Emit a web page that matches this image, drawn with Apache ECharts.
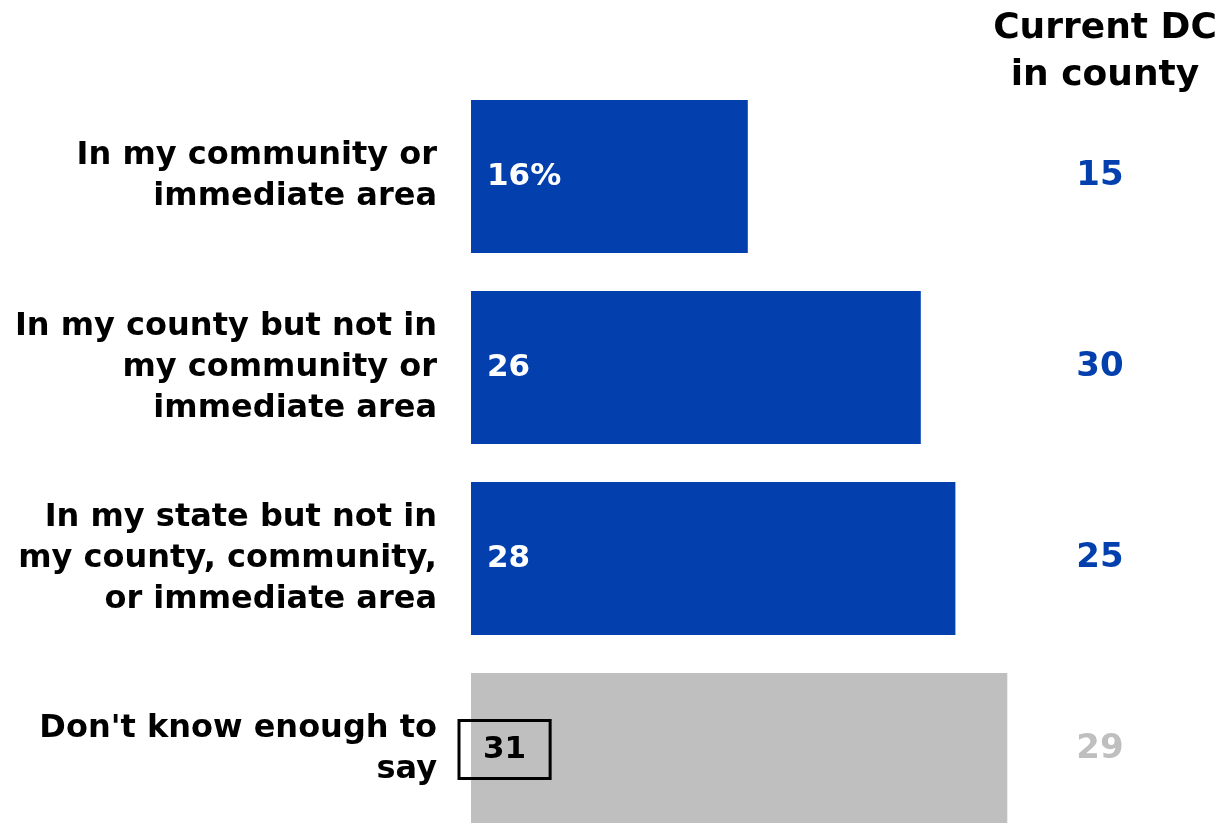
<!DOCTYPE html>
<html>
<head>
<meta charset="utf-8">
<script src="https://cdn.jsdelivr.net/npm/echarts@6/dist/echarts.min.js"></script>
<style>html,body{margin:0;padding:0;background:#fff;}#c{width:1224px;height:823px;}</style>
</head>
<body>
<div id="c"></div>
<script>
var categories = [
  "In my community or\nimmediate area",
  "In my county but not in\nmy community or\nimmediate area",
  "In my state but not in\nmy county, community,\nor immediate area",
  "Don't know enough to\nsay"
];
var values = [16, 26, 28, 31];
var valueLabels = ["16%", "26", "28", "31"];
var dcValues = ["15", "30", "25", "29"];
var dcTitle = "Current DC\nin county";

var BLUE = "#0340ae", GRAY = "#bfbfbf";
var FONT = "DejaVu Sans";

var barData = values.map(function (v, i) {
  var last = i === values.length - 1;
  return {
    value: v,
    itemStyle: { color: last ? GRAY : BLUE },
    label: last ? {
      color: "#000",
      borderColor: "#000",
      borderWidth: 3,
      padding: [14, 24, 13, 24],
      offset: [-12, 0],
      distance: 0
    } : {}
  };
});

var chart = echarts.init(document.getElementById("c"), null, { renderer: "canvas" });
chart.setOption({
  animation: false,
  backgroundColor: "#fff",
  title: {
    text: dcTitle,
    left: 1100,
    top: 0,
    textAlign: "center",
    textStyle: { fontFamily: FONT, fontWeight: "bold", fontSize: 36, lineHeight: 47, color: "#000" }
  },
  grid: { left: 471, top: 81, width: 692, height: 764, outerBoundsMode: "none", containLabel: false },
  xAxis: { type: "value", min: 0, max: 40, show: false },
  yAxis: [
    {
      type: "category",
      data: categories,
      inverse: true,
      axisLine: { show: false },
      axisTick: { show: false },
      axisLabel: {
        margin: 34,
        align: "right",
        fontFamily: FONT,
        fontWeight: "bold",
        fontSize: 32,
        lineHeight: 41,
        color: "#000"
      }
    },
    {
      type: "category",
      data: dcValues,
      inverse: true,
      position: "right",
      offset: -63,
      axisLine: { show: false },
      axisTick: { show: false },
      axisLabel: {
        margin: 0,
        align: "center",
        fontFamily: FONT,
        fontWeight: "bold",
        fontSize: 34,
        color: function (v, i) { return i === dcValues.length - 1 ? GRAY : BLUE; }
      }
    }
  ],
  series: [{
    type: "bar",
    data: barData,
    barCategoryGap: "20%",
    label: {
      show: true,
      position: "insideLeft",
      distance: 16,
      fontFamily: FONT,
      fontWeight: "bold",
      fontSize: 31,
      color: "#fff",
      formatter: function (p) { return valueLabels[p.dataIndex]; }
    }
  }]
});
</script>
</body>
</html>
